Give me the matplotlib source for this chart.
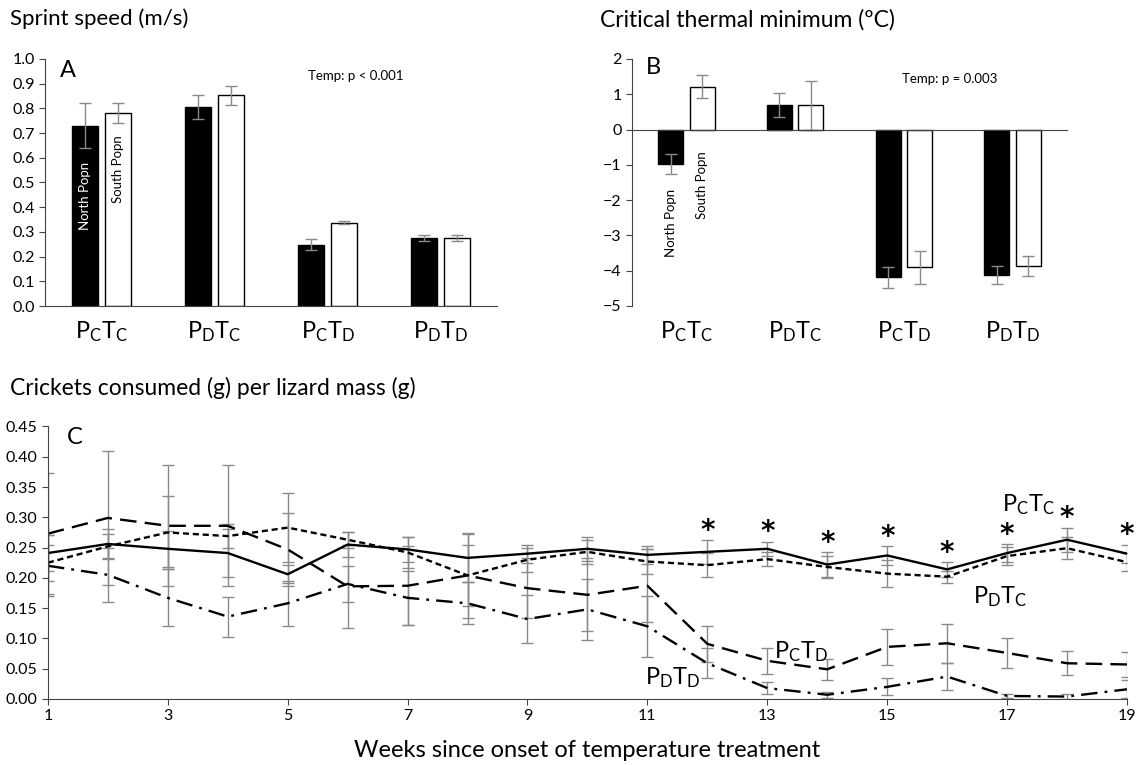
import numpy as np
import matplotlib
matplotlib.use('Agg')
import matplotlib.pyplot as plt

plt.rcParams['font.family'] = ['Lato', 'DejaVu Sans']
plt.rcParams['mathtext.fontset'] = 'custom'
plt.rcParams['mathtext.rm'] = 'Lato'
plt.rcParams['mathtext.it'] = 'Lato'

# group labels (treatment)
groups = [r'P$_\mathrm{C}$T$_\mathrm{C}$', r'P$_\mathrm{D}$T$_\mathrm{C}$',
          r'P$_\mathrm{C}$T$_\mathrm{D}$', r'P$_\mathrm{D}$T$_\mathrm{D}$']

# panel A: sprint speed
sprint_north = [0.73, 0.805, 0.248, 0.275]
sprint_north_se = [0.09, 0.05, 0.023, 0.012]
sprint_south = [0.78, 0.852, 0.337, 0.275]
sprint_south_se = [0.04, 0.04, 0.006, 0.012]

# panel B: critical thermal minimum
ctmin_north = [-0.97, 0.69, -4.19, -4.12]
ctmin_north_se = [0.28, 0.33, 0.30, 0.26]
ctmin_south = [1.21, 0.69, -3.90, -3.87]
ctmin_south_se = [0.32, 0.69, 0.47, 0.28]

# panel C: crickets consumed per lizard mass, weeks 1-19
weeks = np.arange(1, 20)
pctc = [0.241, 0.256, 0.248, 0.241, 0.206, 0.255, 0.247, 0.233, 0.240, 0.248,
        0.238, 0.243, 0.248, 0.222, 0.237, 0.214, 0.241, 0.263, 0.240]
pctc_se = [0.03, 0.025, 0.03, 0.04, 0.015, 0.02, 0.02, 0.04, 0.015, 0.02,
           0.015, 0.02, 0.012, 0.02, 0.015, 0.012, 0.015, 0.02, 0.015]
pdtc = [0.225, 0.252, 0.275, 0.269, 0.283, 0.263, 0.242, 0.204, 0.230, 0.243,
        0.227, 0.221, 0.231, 0.218, 0.207, 0.202, 0.236, 0.249, 0.226]
pdtc_se = [0.03, 0.02, 0.06, 0.02, 0.057, 0.013, 0.025, 0.05, 0.02, 0.02,
           0.02, 0.02, 0.012, 0.018, 0.022, 0.01, 0.015, 0.018, 0.015]
pctd = [0.273, 0.299, 0.286, 0.286, 0.247, 0.186, 0.187, 0.204, 0.183, 0.172,
        0.187, 0.091, 0.063, 0.049, 0.086, 0.092, 0.076, 0.059, 0.057]
pctd_se = [0.10, 0.11, 0.10, 0.10, 0.06, 0.068, 0.065, 0.07, 0.05, 0.06,
           0.06, 0.03, 0.022, 0.017, 0.03, 0.032, 0.025, 0.02, 0.02]
pdtd = [0.220, 0.205, 0.167, 0.136, 0.158, 0.190, 0.167, 0.158, 0.132, 0.148,
        0.120, 0.059, 0.018, 0.007, 0.020, 0.037, 0.005, 0.004, 0.016]
pdtd_se = [0.05, 0.045, 0.047, 0.033, 0.037, 0.03, 0.045, 0.035, 0.04, 0.05,
           0.05, 0.025, 0.01, 0.005, 0.014, 0.022, 0.004, 0.004, 0.015]
sig_weeks = [12, 13, 14, 15, 16, 17, 18, 19]

ecol = '#8a8a8a'
fig = plt.figure(figsize=(11.4, 7.65), dpi=100)

def bar_panel(ax, north, north_se, south, south_se):
    x = np.arange(len(groups))
    w = 0.23
    ax.bar(x - 0.145, north, w, color='black', edgecolor='black', lw=1)
    ax.bar(x + 0.145, south, w, color='white', edgecolor='black', lw=1)
    ax.errorbar(x - 0.145, north, yerr=north_se, fmt='none', ecolor=ecol, elinewidth=1, capsize=4)
    ax.errorbar(x + 0.145, south, yerr=south_se, fmt='none', ecolor=ecol, elinewidth=1, capsize=4)
    ax.set_xlim(-0.5, 3.5)
    ax.set_xticks([])
    for s in ['top', 'right']:
        ax.spines[s].set_visible(False)
    ax.spines['left'].set_color('#444444')
    ax.spines['bottom'].set_color('#444444')
    ax.tick_params(axis='y', labelsize=11.5, length=4, color='#444444')
    for i, g in enumerate(groups):
        ax.text(i, -0.105, g, transform=ax.get_xaxis_transform(), ha='center', va='center', fontsize=17)

# panel A
axA = fig.add_axes([0.0395, 0.6, 0.3965, 0.323])
bar_panel(axA, sprint_north, sprint_north_se, sprint_south, sprint_south_se)
axA.set_ylim(0, 1.0)
axA.set_yticks(np.arange(0, 1.01, 0.1))
axA.set_yticklabels(['%.1f' % v for v in np.arange(0, 1.01, 0.1)])
axA.text(-0.3, 0.955, 'A', fontsize=17, va='center', ha='center')
axA.text(2.25, 0.93, 'Temp: p < 0.001', fontsize=9.5, ha='center', va='center')
axA.text(-0.145, 0.445, 'North Popn', rotation=90, color='white', fontsize=9.5, ha='center', va='center')
axA.text(0.145, 0.555, 'South Popn', rotation=90, color='black', fontsize=9.5, ha='center', va='center')
fig.text(0.009, 0.976, 'Sprint speed (m/s)', fontsize=16, ha='left', va='center')

# panel B
axB = fig.add_axes([0.5544, 0.6, 0.3816, 0.323])
bar_panel(axB, ctmin_north, ctmin_north_se, ctmin_south, ctmin_south_se)
axB.set_ylim(-5, 2)
axB.set_yticks(range(-5, 3))
axB.spines['bottom'].set_position(('data', 0))
axB.text(-0.3, 1.75, 'B', fontsize=17, va='center', ha='center')
axB.text(2.42, 1.44, 'Temp: p = 0.003', fontsize=9.5, ha='center', va='center')
axB.text(-0.145, -2.65, 'North Popn', rotation=90, color='black', fontsize=9.5, ha='center', va='center')
axB.text(0.145, -1.58, 'South Popn', rotation=90, color='black', fontsize=9.5, ha='center', va='center')
fig.text(0.526, 0.974, 'Critical thermal minimum (ºC)', fontsize=16.5, ha='left', va='center')

# panel C
axC = fig.add_axes([0.042, 0.0863, 0.9466, 0.3562])
series = [(pctc, pctc_se, '-'), (pdtc, pdtc_se, (0, (2.6, 1.6))),
          (pctd, pctd_se, (0, (7, 3.5))), (pdtd, pdtd_se, (0, (7, 3, 1.2, 3)))]
for vals, se, ls in series:
    axC.errorbar(weeks, vals, yerr=se, fmt='none', ecolor=ecol, elinewidth=1, capsize=4.5)
for vals, se, ls in series:
    axC.plot(weeks, vals, color='black', lw=1.7, linestyle=ls)
for wk in sig_weeks:
    i = wk - 1
    axC.text(wk, pctc[i] + pctc_se[i] + 0.002, '*', fontsize=20, fontweight='bold',
             family='DejaVu Sans', ha='center', va='baseline')
axC.set_xlim(1, 19)
axC.set_ylim(0, 0.45)
axC.set_xticks(range(1, 20, 2))
axC.set_yticks(np.arange(0, 0.451, 0.05))
axC.set_yticklabels(['%.2f' % v for v in np.arange(0, 0.451, 0.05)])
for s in ['top', 'right']:
    axC.spines[s].set_visible(False)
axC.spines['left'].set_color('#444444')
axC.spines['bottom'].set_color('#444444')
axC.tick_params(labelsize=11.5, length=4, color='#444444')
axC.set_xlabel('Weeks since onset of temperature treatment', fontsize=17, labelpad=12)
axC.text(1.45, 0.432, 'C', fontsize=17, va='center', ha='center')
axC.text(17.36, 0.321, groups[0], fontsize=17, ha='center', va='center')
axC.text(16.88, 0.169, groups[1], fontsize=17, ha='center', va='center')
axC.text(13.57, 0.078, groups[2], fontsize=17, ha='center', va='center')
axC.text(11.42, 0.035, groups[3], fontsize=17, ha='center', va='center')
fig.text(0.009, 0.493, 'Crickets consumed (g) per lizard mass (g)', fontsize=16.5, ha='left', va='center')

fig.savefig('out.png', dpi=100)
